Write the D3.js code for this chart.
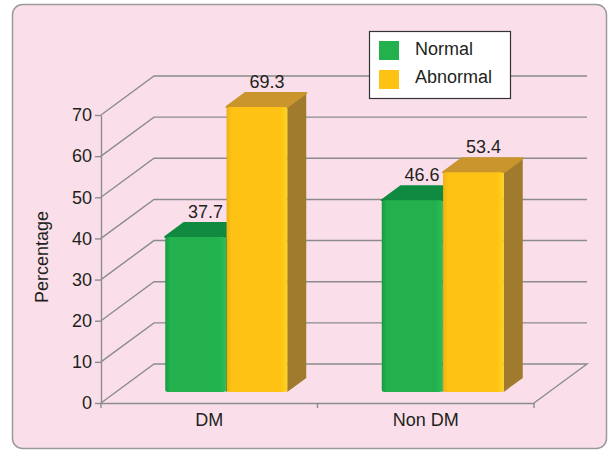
<!DOCTYPE html>
<html>
<head>
<meta charset="utf-8">
<script src="https://cdn.jsdelivr.net/npm/d3@7"></script>
<style>
  body { margin: 0; background: #fff; }
  svg { display: block; font-family: "Liberation Sans", Arial, sans-serif; }
</style>
</head>
<body>
<svg id="chart" width="609" height="452"></svg>
<script>
// chart data
const categories = ['DM', 'Non DM'];
const seriesNames = ['Normal', 'Abnormal'];
const normalValues = [37.7, 46.6];
const abnormalValues = [69.3, 53.4];
const yTicks = [0, 10, 20, 30, 40, 50, 60, 70];

const seriesColors = {
  Normal: { front: ['#179a43', '#22b14c', '#2cbc57'], top: '#0f8a40', side: '#0b7636', legend: '#22b14c' },
  Abnormal: { front: ['#f0b112', '#fdc213', '#ffd21d'], top: '#c9952c', side: '#a17b2d', legend: '#fdc213' }
};

const svg = d3.select('#chart');
const textColor = '#231f20';
const gridColor = '#8c8c8c';

// panel
svg.append('rect')
  .attr('x', 12.5).attr('y', 4.5)
  .attr('width', 594).attr('height', 444)
  .attr('rx', 10)
  .attr('fill', '#fadfea')
  .attr('stroke', '#9a9a9a')
  .attr('stroke-width', 1.5);

// scales
const y = d3.scaleLinear().domain([0, 70]).range([403, 115]);
const x = d3.scaleBand().domain(categories).range([101, 534]);
const bw = x.bandwidth();
const groupW = 122;
const x1 = d3.scaleBand().domain(seriesNames)
  .range([(bw - groupW) / 2, (bw + groupW) / 2])
  .paddingInner(0.01);

// 3d offsets
const depth = { dx: 53, dy: 39 };     // wall depth
const barShift = { dx: 17, dy: 11 };  // bar position inside the depth
const barDepth = { dx: 19, dy: 14 };  // bar thickness
const backRight = x.range()[1] + depth.dx;

// back wall grid lines
const grid = svg.append('g').attr('fill', 'none').attr('stroke', gridColor).attr('stroke-width', 1.4);
grid.selectAll('polyline.grid')
  .data(yTicks.filter(d => d > 0))
  .enter()
  .append('polyline')
  .attr('class', 'grid')
  .attr('points', d => {
    const yy = y(d);
    return [[x.range()[0], yy], [x.range()[0] + depth.dx, yy - depth.dy], [backRight, yy - depth.dy]].join(' ');
  });

// floor
const y0 = y(0);
grid.append('polyline')
  .attr('points', [
    [x.range()[0], y0], [x.range()[0] + depth.dx, y0 - depth.dy],
    [backRight, y0 - depth.dy], [x.range()[1], y0]
  ].join(' '));

// y axis
const yAxis = svg.append('g')
  .attr('transform', `translate(${x.range()[0]},0)`)
  .call(d3.axisLeft(y).tickValues(yTicks).tickSize(6).tickSizeOuter(0).tickPadding(3));
yAxis.select('.domain').attr('stroke', gridColor).attr('stroke-width', 1.4);
yAxis.selectAll('.tick line').attr('stroke', gridColor).attr('stroke-width', 1.4);
yAxis.selectAll('text').attr('fill', textColor).style('font-size', '18px');

// x axis
const xAxis = svg.append('g')
  .attr('transform', `translate(0,${y0})`)
  .call(d3.axisBottom(x).tickSize(0).tickPadding(10).tickSizeOuter(0));
xAxis.select('.domain').attr('stroke', gridColor).attr('stroke-width', 1.4);
xAxis.selectAll('text').attr('fill', textColor).style('font-size', '18px');
const xEdges = [x.range()[0]].concat(categories.map(c => x(c) + bw));
xAxis.selectAll('line.edge')
  .data(xEdges)
  .enter()
  .append('line')
  .attr('class', 'edge')
  .attr('x1', d => d).attr('x2', d => d)
  .attr('y1', 0).attr('y2', 5)
  .attr('stroke', gridColor).attr('stroke-width', 1.4);

// y axis title
svg.append('text')
  .attr('transform', 'translate(48,257) rotate(-90)')
  .attr('text-anchor', 'middle')
  .attr('fill', textColor)
  .style('font-size', '18px')
  .text('Percentage');

// gradients for bar fronts
const defs = svg.append('defs');
seriesNames.forEach((s, i) => {
  const g = defs.append('linearGradient')
    .attr('id', 'grad' + i)
    .attr('x1', '0%').attr('x2', '100%').attr('y1', '0%').attr('y2', '0%');
  const c = seriesColors[s].front;
  g.append('stop').attr('offset', '0%').attr('stop-color', c[0]);
  g.append('stop').attr('offset', '8%').attr('stop-color', c[1]);
  g.append('stop').attr('offset', '88%').attr('stop-color', c[1]);
  g.append('stop').attr('offset', '100%').attr('stop-color', c[2]);
});

// bar table
const rows = categories.flatMap((c, i) => [
  { category: c, series: 'Normal', value: normalValues[i], si: 0 },
  { category: c, series: 'Abnormal', value: abnormalValues[i], si: 1 }
]);

const bars = svg.append('g');
rows.forEach(d => {
  const bx = x(d.category) + x1(d.series) + barShift.dx;
  const w = x1.bandwidth();
  const yt = y(d.value) - barShift.dy;
  const yb = y(0) - barShift.dy;
  const col = seriesColors[d.series];
  const g = bars.append('g');

  g.append('polygon')
    .attr('points', [[bx + w, yt], [bx + w + barDepth.dx, yt - barDepth.dy],
      [bx + w + barDepth.dx, yb - barDepth.dy], [bx + w, yb]].join(' '))
    .attr('fill', col.side);

  g.append('polygon')
    .attr('points', [[bx, yt], [bx + barDepth.dx, yt - barDepth.dy],
      [bx + w + barDepth.dx, yt - barDepth.dy], [bx + w, yt]].join(' '))
    .attr('fill', col.top)
    .attr('stroke', col.top)
    .attr('stroke-linejoin', 'round')
    .attr('stroke-width', 2);

  g.append('rect')
    .attr('x', bx).attr('y', yt)
    .attr('width', w).attr('height', yb - yt)
    .attr('rx', 2.5)
    .attr('fill', `url(#grad${d.si})`);

  svg.append('text')
    .attr('x', bx + w / 2 + 10)
    .attr('y', yt - barDepth.dy - 5)
    .attr('text-anchor', 'middle')
    .attr('fill', textColor)
    .style('font-size', '18px')
    .text(d.value.toFixed(1));
});

// legend
const legend = svg.append('g').attr('transform', 'translate(369.5,31.5)');
legend.append('rect')
  .attr('width', 141).attr('height', 67)
  .attr('fill', '#fff')
  .attr('stroke', '#333')
  .attr('stroke-width', 1.2);
seriesNames.forEach((s, i) => {
  legend.append('rect')
    .attr('x', 9.5).attr('y', 9.5 + i * 29)
    .attr('width', 20).attr('height', 19)
    .attr('fill', seriesColors[s].legend);
  legend.append('text')
    .attr('x', 45.5).attr('y', 23.5 + i * 28)
    .attr('fill', textColor)
    .style('font-size', '18px')
    .text(s);
});
</script>
</body>
</html>
